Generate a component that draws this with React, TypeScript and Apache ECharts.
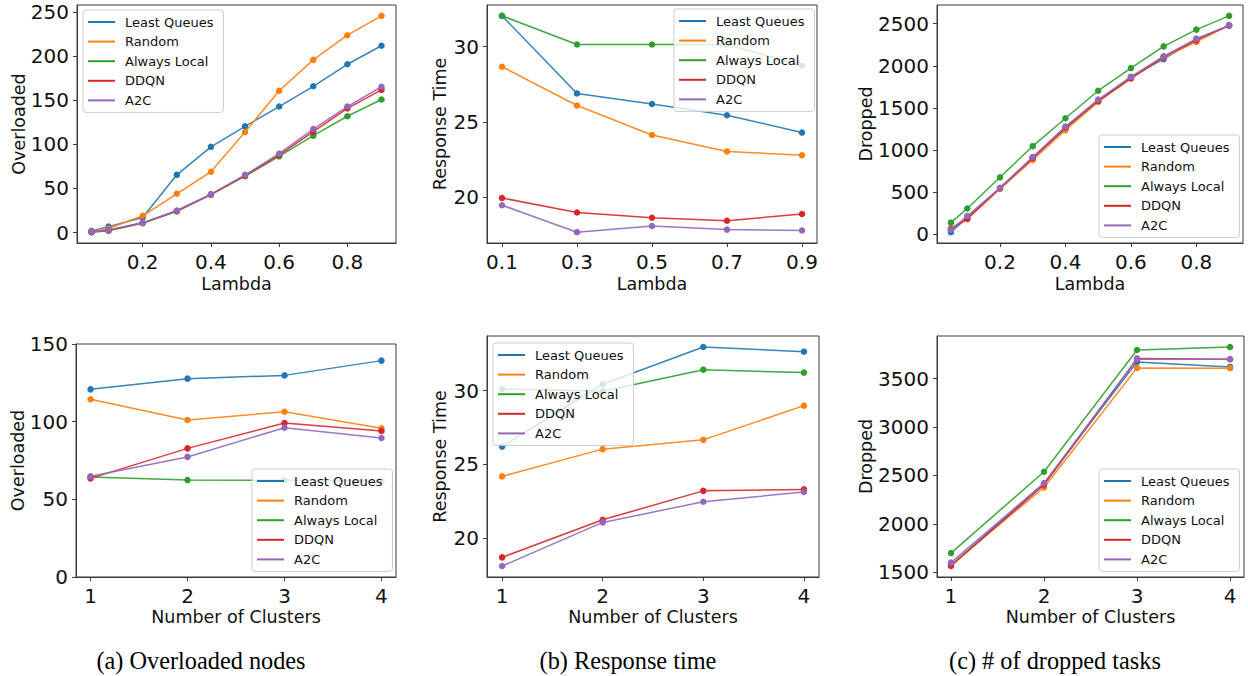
import React, { useEffect, useRef } from "react";
import * as echarts from "echarts";

const methods = ["Least Queues", "Random", "Always Local", "DDQN", "A2C"];
const colors = ["#1f77b4", "#ff7f0e", "#2ca02c", "#d62728", "#9467bd"];

const lambdaFine = [0.05, 0.1, 0.2, 0.3, 0.4, 0.5, 0.6, 0.7, 0.8, 0.9];
const lambdaCoarse = [0.1, 0.3, 0.5, 0.7, 0.9];
const clusters = [1, 2, 3, 4];

// (a) top: overloaded vs lambda
const overLQ = [1.9, 6.7, 17, 65.5, 97.3, 120.5, 143, 166, 191, 212];
const overRandom = [1, 4.5, 19, 44, 69, 114, 161, 196, 224, 246];
const overAL = [0.4, 2, 10.5, 24, 43, 64, 86.5, 110, 132, 151];
const overDDQN = [0.5, 2.5, 11, 24.5, 43, 64.5, 88, 114.5, 141, 162];
const overA2C = [1, 3, 11, 25, 43.5, 65.5, 89.5, 117.5, 143, 165.5];

// (b) top: response time vs lambda
const respLQ = [32.05, 26.9, 26.2, 25.45, 24.3];
const respRandom = [28.67, 26.1, 24.14, 23.05, 22.79];
const respAL = [32.05, 30.15, 30.15, 30.15, 28.74];
const respDDQN = [19.96, 19.0, 18.65, 18.45, 18.9];
const respA2C = [19.48, 17.69, 18.1, 17.86, 17.8];

// (c) top: dropped vs lambda
const dropLQ = [23, 199, 546, 909, 1256, 1580, 1868, 2079, 2320, 2480];
const dropRandom = [70, 187, 538, 881, 1236, 1572, 1853, 2098, 2285, 2484];
const dropAL = [136, 304, 675, 1045, 1377, 1704, 1973, 2231, 2430, 2594];
const dropDDQN = [58, 179, 546, 901, 1268, 1583, 1849, 2106, 2305, 2477];
const dropA2C = [51, 215, 550, 917, 1279, 1599, 1868, 2114, 2320, 2477];

// (a) bottom: overloaded vs clusters
const overClLQ = [120.8, 127.7, 129.8, 139.3];
const overClRandom = [114.4, 101.1, 106.4, 95.7];
const overClAL = [64.4, 62.4, 62.3, 61.8];
const overClDDQN = [63.5, 82.8, 99.1, 94.0];
const overClA2C = [64.8, 77.3, 96.1, 89.5];

// (b) bottom: response time vs clusters
const respClLQ = [26.2, 30.43, 32.96, 32.64];
const respClRandom = [24.18, 26.03, 26.66, 28.98];
const respClAL = [30.11, 29.95, 31.42, 31.22];
const respClDDQN = [18.69, 21.24, 23.2, 23.3];
const respClA2C = [18.1, 21.06, 22.46, 23.12];

// (c) bottom: dropped vs clusters
const dropClLQ = [1576, 2414, 3672, 3620];
const dropClRandom = [1576, 2376, 3610, 3607];
const dropClAL = [1699, 2538, 3795, 3826];
const dropClDDQN = [1565, 2404, 3706, 3699];
const dropClA2C = [1600, 2421, 3699, 3699];

const ticksLambdaFine = [0.2, 0.4, 0.6, 0.8];
const ticksLambdaCoarse = [0.1, 0.3, 0.5, 0.7, 0.9];
const ticksClusters = [1, 2, 3, 4];
const ticksOver = [0, 50, 100, 150, 200, 250];
const ticksOverCl = [0, 50, 100, 150];
const ticksResp = [20, 25, 30];
const ticksDrop = [0, 500, 1000, 1500, 2000, 2500];
const ticksDropCl = [1500, 2000, 2500, 3000, 3500];

const captions = ["(a) Overloaded nodes", "(b) Response time", "(c) # of dropped tasks"];

type Panel = {
  grid: { left: number; top: number; width: number; height: number };
  x: number[];
  ys: number[][];
  xTicks: number[];
  yTicks: number[];
  xName: string;
  yName: string;
  yNameGap: number;
  xNameGap: number;
  yFixed?: [number, number];
  legend: { left: number; top: number };
};

const panels: Panel[] = [
  {
    grid: { left: 77, top: 5, width: 319, height: 238 },
    x: lambdaFine,
    ys: [overLQ, overRandom, overAL, overDDQN, overA2C],
    xTicks: ticksLambdaFine,
    yTicks: ticksOver,
    xName: "Lambda",
    yName: "Overloaded",
    yNameGap: 49,
    xNameGap: 32,
    legend: { left: 83, top: 10 },
  },
  {
    grid: { left: 487, top: 5, width: 330, height: 238 },
    x: lambdaCoarse,
    ys: [respLQ, respRandom, respAL, respDDQN, respA2C],
    xTicks: ticksLambdaCoarse,
    yTicks: ticksResp,
    xName: "Lambda",
    yName: "Response Time",
    yNameGap: 38,
    xNameGap: 32,
    legend: { left: 674, top: 9 },
  },
  {
    grid: { left: 937, top: 5, width: 306, height: 238 },
    x: lambdaFine,
    ys: [dropLQ, dropRandom, dropAL, dropDDQN, dropA2C],
    xTicks: ticksLambdaFine,
    yTicks: ticksDrop,
    xName: "Lambda",
    yName: "Dropped",
    yNameGap: 62,
    xNameGap: 32,
    legend: { left: 1099, top: 135 },
  },
  {
    grid: { left: 76, top: 344, width: 320, height: 233 },
    x: clusters,
    ys: [overClLQ, overClRandom, overClAL, overClDDQN, overClA2C],
    xTicks: ticksClusters,
    yTicks: ticksOverCl,
    xName: "Number of Clusters",
    yName: "Overloaded",
    yNameGap: 49,
    xNameGap: 31,
    yFixed: [0, 150],
    legend: { left: 252, top: 469 },
  },
  {
    grid: { left: 487, top: 336, width: 332, height: 241 },
    x: clusters,
    ys: [respClLQ, respClRandom, respClAL, respClDDQN, respClA2C],
    xTicks: ticksClusters,
    yTicks: ticksResp,
    xName: "Number of Clusters",
    yName: "Response Time",
    yNameGap: 38,
    xNameGap: 31,
    legend: { left: 493, top: 343 },
  },
  {
    grid: { left: 937, top: 336, width: 307, height: 241 },
    x: clusters,
    ys: [dropClLQ, dropClRandom, dropClAL, dropClDDQN, dropClA2C],
    xTicks: ticksClusters,
    yTicks: ticksDropCl,
    xName: "Number of Clusters",
    yName: "Dropped",
    yNameGap: 62,
    xNameGap: 31,
    legend: { left: 1099, top: 469 },
  },
];

const captionPos = [
  { x: 201, y: 660 },
  { x: 628, y: 660 },
  { x: 1055, y: 660 },
];

const FONT = "DejaVu Sans";
const FRAME = "#3a3a3a";

function padRange(vals: number[]): [number, number] {
  const mn = Math.min(...vals);
  const mx = Math.max(...vals);
  const p = (mx - mn) * 0.05;
  return [mn - p, mx + p];
}

const plainNum = (v: number) => String(Math.round(v * 1000) / 1000);

function buildOption() {
  const grid: any[] = [];
  const xAxis: any[] = [];
  const yAxis: any[] = [];
  const series: any[] = [];
  const legend: any[] = [];

  panels.forEach((p, i) => {
    grid.push({
      ...p.grid,
      show: true,
      borderColor: FRAME,
      borderWidth: 1,
      backgroundColor: "transparent",
      containLabel: false,
      outerBoundsMode: "none",
    });
    const [xmin, xmax] = padRange(p.x);
    const [ymin, ymax] = p.yFixed ? p.yFixed : padRange(p.ys.flat());
    xAxis.push({
      type: "value",
      gridIndex: i,
      min: xmin,
      max: xmax,
      name: p.xName,
      nameLocation: "middle",
      nameGap: p.xNameGap,
      nameMoveOverlap: false,
      nameTextStyle: { fontFamily: FONT, fontSize: 17.5, color: "#111" },
      axisLine: { show: true, onZero: false, lineStyle: { color: FRAME, width: 1 } },
      axisTick: { show: true, inside: false, length: 4, customValues: p.xTicks, lineStyle: { color: FRAME } },
      axisLabel: {
        show: true,
        margin: 8.5,
        customValues: p.xTicks,
        formatter: plainNum,
        fontFamily: FONT,
        fontSize: 20,
        color: "#111",
        hideOverlap: false,
      },
      splitLine: { show: false },
    });
    yAxis.push({
      type: "value",
      gridIndex: i,
      min: ymin,
      max: ymax,
      name: p.yName,
      nameLocation: "middle",
      nameGap: p.yNameGap,
      nameMoveOverlap: false,
      nameTextStyle: { fontFamily: FONT, fontSize: 17.5, color: "#111" },
      axisLine: { show: true, onZero: false, lineStyle: { color: FRAME, width: 1 } },
      axisTick: { show: true, inside: false, length: 4, customValues: p.yTicks, lineStyle: { color: FRAME } },
      axisLabel: {
        show: true,
        margin: 8,
        customValues: p.yTicks,
        formatter: plainNum,
        fontFamily: FONT,
        fontSize: 20,
        lineHeight: 18,
        color: "#111",
        hideOverlap: false,
      },
      splitLine: { show: false },
    });
    methods.forEach((m, k) => {
      series.push({
        type: "line",
        name: m,
        xAxisIndex: i,
        yAxisIndex: i,
        data: p.x.map((xv, j) => [xv, p.ys[k][j]]),
        symbol: "circle",
        symbolSize: 6.5,
        showSymbol: true,
        color: colors[k],
        lineStyle: { width: 1.5, color: colors[k], opacity: 0.9 },
        itemStyle: { color: colors[k] },
        emphasis: { disabled: true },
        z: 2 + k * 0.01,
      });
    });
    legend.push({
      data: methods,
      orient: "vertical",
      left: p.legend.left,
      top: p.legend.top,
      icon: "rect",
      itemWidth: 27,
      itemHeight: 2,
      itemGap: 5.6,
      padding: [5, 10, 5, 5],
      selectedMode: false,
      backgroundColor: "rgba(255,255,255,0.8)",
      borderColor: "#cccccc",
      borderWidth: 1,
      borderRadius: 3,
      textStyle: { fontFamily: FONT, fontSize: 13, color: "#111", lineHeight: 14, padding: [0, 0, 0, 5] },
      z: 10,
    });
  });

  const graphic = captions.map((c, i) => ({
    type: "text",
    x: captionPos[i].x,
    y: captionPos[i].y,
    style: {
      text: c,
      fontFamily: "Liberation Serif",
      fontSize: 24.3,
      fill: "#000",
      align: "center",
      verticalAlign: "middle",
    },
  }));

  return {
    animation: false,
    backgroundColor: "#ffffff",
    grid,
    xAxis,
    yAxis,
    series,
    legend,
    graphic,
    tooltip: { show: false },
  };
}

export default function App() {
  const ref = useRef<HTMLDivElement>(null);
  useEffect(() => {
    document.body.style.margin = "0";
    document.body.style.overflow = "hidden";
    if (!ref.current) return;
    const chart = echarts.init(ref.current, undefined, { renderer: "svg" });
    chart.setOption(buildOption() as any);
    return () => chart.dispose();
  }, []);
  return <div ref={ref} style={{ width: 1248, height: 676, background: "#fff" }} />;
}
